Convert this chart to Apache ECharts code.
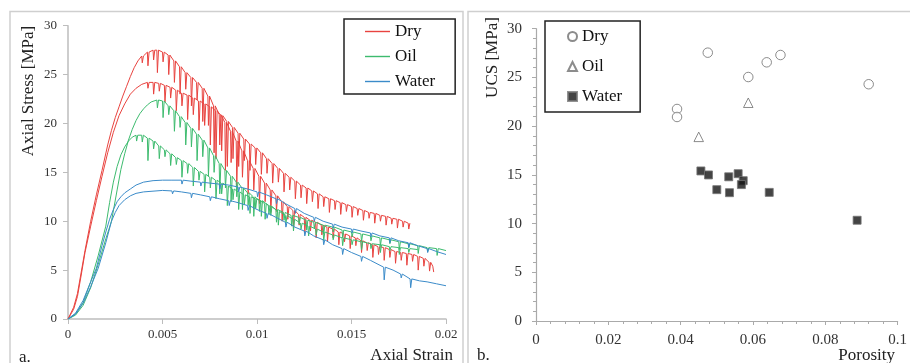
<!DOCTYPE html>
<html>
<head>
<meta charset="utf-8">
<script src="https://cdn.jsdelivr.net/npm/echarts@6/dist/echarts.min.js"></script>
<style>html,body{margin:0;padding:0;background:#fff;}#c{width:910px;height:363px;}</style>
</head>
<body>
<div id="c"></div>
<script>
// ---- Panel a: stress-strain curves. [strain, stress] or [strain, stress, dipBottom]
const dryA = [[0,0],[0.0003,1.2],[0.0005,2.6],[0.0007,4.8],[0.0009,7.0],[0.0012,10.0],[0.0015,12.7],[0.0018,15.2],[0.0021,17.8],[0.0023,19.3],[0.0025,20.6],[0.0027,21.7],[0.0029,22.8],[0.0031,23.8],[0.0033,24.8],[0.0035,25.7],[0.0037,26.4],
[0.0039,26.9,26.2],[0.0042,27.3,25.9],[0.0045,27.5,26.5],[0.0047,27.5,25.2],[0.0050,27.3,26.3],[0.0053,27.0,25.0],[0.0056,26.4,24.2],[0.0059,25.8,23.0],[0.0062,25.2,23.5],[0.0065,24.7,21.8],[0.0068,24.2,22.4],[0.0071,23.6,20.2],[0.0074,22.8,19.8],[0.0077,21.8,17.0],[0.0080,20.9,17.8],[0.0083,20.1,15.2],[0.0086,19.2,16.0],[0.0089,18.2,13.6],[0.0092,17.2,14.5],[0.0095,16.2,12.8],[0.0098,15.4,13.2],[0.0101,14.6,11.8],[0.0104,13.9,12.0],[0.0107,13.2,10.9],[0.0110,12.6,11.0],[0.0113,12.0,10.0],[0.0116,11.5,10.2],[0.0119,11.1,9.3],[0.0122,10.7,9.6],[0.0125,10.4,8.8],[0.0128,10.1,9.0],[0.0131,9.9,8.3],[0.0134,9.6,8.6],[0.0137,9.4,7.9],[0.0140,9.2,8.3],[0.0143,8.9,7.6],[0.0146,8.7,7.9],[0.0149,8.5,7.2],[0.0152,8.3,7.5],[0.0155,8.0,6.8],[0.0158,7.8,7.0],[0.0161,7.6,6.3],[0.0164,7.4,6.6],[0.0167,7.3,6.0],[0.0170,7.1,6.3],[0.0173,6.9,5.7],[0.0176,6.8,6.0],[0.0179,6.7,5.5],[0.0182,6.6,5.9],[0.0185,6.4,5.0],[0.0188,6.2,5.4],[0.0191,5.8,4.9],[0.0193,5.4],[0.01935,4.8]];
const dryB = [[0,0],[0.0003,1.0],[0.0005,2.3],[0.0007,4.5],[0.0009,6.8],[0.0012,9.5],[0.0015,12.1],[0.0018,14.6],[0.0021,17.0],[0.0024,19.1],[0.0027,20.8],[0.0030,22.0],[0.0033,23.0],[0.0036,23.6],[0.0039,24.0],
[0.0042,24.2,23.6],[0.0045,24.2,23.0],[0.0048,24.1,23.3],[0.0051,23.9,22.2],[0.0054,23.7,22.6],[0.0057,23.4,21.3],[0.0060,23.1,21.8],[0.0063,22.9,20.4],[0.0066,22.6,20.9],[0.0069,22.3,19.3],[0.0072,22.0,19.8],[0.0075,21.7,17.8],[0.0078,21.3,16.4],[0.0081,20.8,17.2],[0.0084,20.2,15.6],[0.0087,19.6,16.4],[0.0090,19.0,15.6],[0.0093,18.4,16.2],[0.0096,17.9,15.2],[0.0099,17.5,15.8],[0.0102,17.0,14.8],[0.0105,16.4,14.9],[0.0108,15.9,13.9],[0.0111,15.4,14.0],[0.0114,14.9,13.0],[0.0117,14.5,13.2],[0.0120,14.1,12.3],[0.0123,13.7,12.4],[0.0126,13.4,11.8],[0.0129,13.1,12.0],[0.0132,12.8,11.3],[0.0135,12.5,11.5],[0.0138,12.3,10.9],[0.0141,12.1,11.2],[0.0144,11.9,10.7],[0.0147,11.7,11.0],[0.0150,11.5,10.4],[0.0153,11.3,10.6],[0.0156,11.1,10.1],[0.0159,10.9,10.3],[0.0162,10.8,9.8],[0.0165,10.6,10.0],[0.0168,10.5,9.6],[0.0171,10.3,9.7],[0.0174,10.2,9.3],[0.0177,10.0,9.4],[0.0180,9.8,9.2]];
const oilA = [[0,0],[0.0004,0.4],[0.0008,1.4],[0.0012,3.2],[0.0016,5.6],[0.0020,8.2],[0.0023,10.0],[0.0026,13.2],[0.0028,15.3],[0.0030,16.9],[0.0032,18.3],[0.0034,19.4],[0.0036,20.3],[0.0038,21.0],[0.0040,21.5],[0.0042,21.9],[0.0044,22.2],
[0.0047,22.4,21.6],[0.0050,22.3,20.6],[0.0053,21.8,20.9],[0.0056,21.3,19.2],[0.0059,20.7,19.6],[0.0062,20.1,17.8],[0.0065,19.5,17.6],[0.0068,18.9,16.2],[0.0071,18.3,16.6],[0.0074,17.5,14.6],[0.0077,16.7,15.0],[0.0080,15.9,12.8],[0.0083,15.2,13.4],[0.0086,14.6,12.0],[0.0089,14.0,12.5],[0.0092,13.4,11.2],[0.0095,12.9,11.6],[0.0098,12.5,10.5],[0.0101,12.1,11.0],[0.0104,11.8,10.2],[0.0107,11.5,10.6],[0.0111,11.0,9.6],[0.0115,10.6,9.8],[0.0119,10.2,9.0],[0.0123,9.8,9.2],[0.0127,9.5,8.5],[0.0131,9.2,8.6],[0.0135,8.9,8.0],[0.0140,8.6,8.1],[0.0145,8.3,7.5],[0.0150,8.1,7.6],[0.0155,7.9,7.1],[0.0160,7.7,7.2],[0.0165,7.6,6.8],[0.0170,7.4,7.0],[0.0175,7.3,6.6],[0.0180,7.2,6.8],[0.0185,7.1]];
const oilB = [[0,0],[0.0004,0.5],[0.0008,1.7],[0.0012,3.8],[0.0016,6.5],[0.0020,9.5],[0.0022,11.9],[0.0024,14.0],[0.0026,15.6],[0.0028,16.8],[0.0030,17.6],[0.0032,18.2],[0.0034,18.6],
[0.0036,18.8,18.2],[0.0039,18.8,18.1],[0.0042,18.5,16.2],[0.0045,18.2,17.4],[0.0048,17.7,16.4],[0.0051,17.3,16.6],[0.0054,16.9,15.7],[0.0057,16.5,15.8],[0.0060,16.2,14.5],[0.0063,15.9,14.9],[0.0066,15.5,13.6],[0.0069,15.1,14.2],[0.0072,14.8,13.0],[0.0075,14.5,13.4],[0.0078,14.2,12.3],[0.0081,13.9,12.8],[0.0084,13.6,11.6],[0.0087,13.3,12.2],[0.0090,13.0,11.2],[0.0093,12.7,11.7],[0.0096,12.5,10.8],[0.0099,12.3,11.3],[0.0102,12.1,10.5],[0.0106,11.6,10.7],[0.0110,11.2,9.9],[0.0114,10.9,10.1],[0.0118,10.6,9.5],[0.0122,10.4,9.7],[0.0126,10.1,9.1],[0.0130,9.9,9.3],[0.0135,9.6,8.7],[0.0140,9.4,8.9],[0.0145,9.1,8.3],[0.0150,8.9,8.4],[0.0155,8.7,7.9],[0.0160,8.5,8.0],[0.0165,8.3,7.5],[0.0170,8.1,7.7],[0.0175,7.9,7.1],[0.0180,7.7,7.3],[0.0185,7.5,6.7],[0.0190,7.3,6.9],[0.0195,7.2,6.5],[0.0200,7.0]];
const waterA = [[0,0],[0.0004,0.6],[0.0008,1.9],[0.0012,3.8],[0.0015,5.2],[0.0018,7.5],[0.0020,8.9],[0.0022,10.2],[0.0024,11.2],[0.0026,12.0],[0.0028,12.5],[0.0030,12.9],[0.0033,13.3],[0.0036,13.7],[0.0040,14.0],[0.0045,14.15],[0.0050,14.2],[0.0055,14.2],[0.0060,14.2,13.8],[0.0065,14.1],[0.0070,14.0,13.6],[0.0075,13.9],[0.0080,13.8,13.3],[0.0085,13.7],[0.0090,13.5,13.0],[0.0095,13.3],[0.0100,13.0,12.5],[0.0105,12.7],[0.0110,12.3,11.8],[0.0115,11.8],[0.0120,11.3,10.8],[0.0125,10.8],[0.0130,10.4,10.0],[0.0135,10.0],[0.0140,9.7,9.3],[0.0145,9.4],[0.0150,9.2,8.8],[0.0155,9.0],[0.0160,8.8,8.4],[0.0165,8.5],[0.0170,8.3,7.8],[0.0175,8.0],[0.0180,7.8,7.3],[0.0185,7.5],[0.0190,7.2,6.8],[0.0195,6.9],[0.0200,6.6]];
const waterB = [[0,0],[0.0004,0.5],[0.0008,1.6],[0.0012,3.3],[0.0016,5.2],[0.0020,7.8],[0.0023,10.0],[0.0025,10.9],[0.0027,11.6],[0.0030,12.2],[0.0033,12.6],[0.0036,12.85],[0.0040,13.0],[0.0050,13.15],[0.0055,13.1,12.8],[0.0060,13.0],[0.0065,12.85,12.4],[0.0070,12.7],[0.0075,12.5,12.1],[0.0080,12.3],[0.0085,12.1,11.6],[0.0090,11.9],[0.0095,11.6,11.1],[0.0100,11.2],[0.0105,10.8,10.3],[0.0110,10.4],[0.0115,9.9,9.4],[0.0120,9.4],[0.0125,9.0,8.5],[0.0130,8.5],[0.0135,8.1,7.6],[0.0140,7.6],[0.0145,7.2,6.6],[0.0150,6.8],[0.0155,6.4,5.9],[0.0160,6.0],[0.0167,5.3,4.0],[0.0172,5.0],[0.0176,4.6,4.2],[0.0181,4.1,3.2],[0.0186,3.9],[0.0190,3.8],[0.0195,3.6],[0.0200,3.4]];

// ---- Panel b: UCS vs porosity
const porDry = [0.039,0.039,0.0475,0.0587,0.0638,0.0676,0.092];
const ucsDry = [21.76,20.94,27.54,25.04,26.55,27.3,24.3];
const porOil = [0.045,0.0587];
const ucsOil = [18.9,22.4];
const porWater = [0.0456,0.0477,0.05,0.0533,0.0535,0.0559,0.0573,0.0568,0.0645,0.0888];
const ucsWater = [15.4,14.99,13.48,14.8,13.17,15.12,14.4,14.0,13.2,10.34];

const RED = '#e8433f', GREEN = '#3dbb6e', BLUE = '#3b8bc9';
const SERIF = 'Liberation Serif';
const DW = 0.00003;
function curve(arr){
  const out = [];
  arr.forEach(p => {
    out.push([p[0], p[1]]);
    if (p.length > 2) { out.push([p[0] + DW, p[2]]); out.push([p[0] + 3 * DW, p[1]]); }
  });
  return out;
}
function zip(xs, ys){ return xs.map((x, i) => [x, ys[i]]); }

const chart = echarts.init(document.getElementById('c'), null, {renderer: 'canvas'});
const axisGray = '#bdbdbd';
const lab = (size) => ({fontFamily: SERIF, fontSize: size, color: '#333'});

function lineSeries(name, data, color){
  return {name, type: 'line', xAxisIndex: 0, yAxisIndex: 0, data: curve(data), symbol: 'none',
    lineStyle: {color, width: 1}, itemStyle: {color}, animation: false, silent: true};
}

chart.setOption({
  animation: false,
  grid: [
    {left: 68, top: 25.7, width: 378, height: 293.3},
    {left: 536, top: 28.7, width: 365, height: 292.3}
  ],
  xAxis: [
    {gridIndex: 0, type: 'value', min: 0, max: 0.02, interval: 0.005, splitLine: {show: false},
      axisLine: {lineStyle: {color: axisGray, width: 1.5}}, axisTick: {length: 5, lineStyle: {color: axisGray}},
      axisLabel: Object.assign({margin: 9}, lab(13))},
    {gridIndex: 1, type: 'value', min: 0, max: 0.1, interval: 0.02, splitLine: {show: false},
      axisLine: {lineStyle: {color: '#aaa', width: 1.2}}, axisTick: {length: 4, lineStyle: {color: '#aaa'}},
      axisLabel: Object.assign({margin: 12}, lab(15))},
    {gridIndex: 1, type: 'value', min: 0, max: 0.1, interval: 0.02, splitLine: {show: false},
      axisLine: {show: false}, axisLabel: {show: false},
      axisTick: {inside: true, length: 4, lineStyle: {color: '#aaa'}},
      minorTick: {show: true, splitNumber: 5, length: 3, lineStyle: {color: '#aaa'}}}
  ],
  yAxis: [
    {gridIndex: 0, type: 'value', min: 0, max: 30, interval: 5, splitLine: {show: false},
      axisLine: {show: true, lineStyle: {color: axisGray, width: 1.5}}, axisTick: {show: true, length: 5, lineStyle: {color: axisGray}},
      axisLabel: Object.assign({margin: 11}, lab(13))},
    {gridIndex: 1, type: 'value', min: 0, max: 30, interval: 5, splitLine: {show: false},
      axisLine: {show: true, lineStyle: {color: '#aaa', width: 1.2}}, axisTick: {show: true, length: 4, lineStyle: {color: '#aaa'}},
      axisLabel: Object.assign({margin: 14}, lab(15))},
    {gridIndex: 1, type: 'value', min: 0, max: 30, interval: 5, splitLine: {show: false},
      axisLine: {show: false}, axisLabel: {show: false},
      axisTick: {show: true, inside: true, length: 4, lineStyle: {color: '#aaa'}},
      minorTick: {show: true, splitNumber: 5, length: 3, lineStyle: {color: '#aaa'}}}
  ],
  legend: [
    {data: ['Dry', 'Oil', 'Water'], orient: 'vertical', left: 344, top: 19, padding: [4, 20, 4, 21],
      itemGap: 8, itemWidth: 25, itemHeight: 1.4, icon: 'rect', selectedMode: false,
      borderColor: '#222', borderWidth: 1.5,
      textStyle: {fontFamily: SERIF, fontSize: 17, color: '#111', lineHeight: 17}},
    {data: ['Dry (b)', 'Oil (b)', 'Water (b)'], orient: 'vertical', left: 545, top: 21, padding: [7, 18, 7, 22],
      itemGap: 13, itemWidth: 9, itemHeight: 9, selectedMode: false,
      borderColor: '#222', borderWidth: 1.5, formatter: n => n.replace(' (b)', ''),
      textStyle: {fontFamily: SERIF, fontSize: 17, color: '#111', lineHeight: 17}}
  ],
  series: [
    lineSeries('Dry', dryA, RED),
    lineSeries('Dry', dryB, RED),
    lineSeries('Oil', oilA, GREEN),
    lineSeries('Oil', oilB, GREEN),
    lineSeries('Water', waterA, BLUE),
    lineSeries('Water', waterB, BLUE),
    {name: 'Dry (b)', type: 'scatter', xAxisIndex: 1, yAxisIndex: 1, data: zip(porDry, ucsDry),
      symbol: 'circle', symbolSize: 9.5, itemStyle: {color: '#fff', borderColor: '#6f6f6f', borderWidth: 1}},
    {name: 'Oil (b)', type: 'scatter', xAxisIndex: 1, yAxisIndex: 1, data: zip(porOil, ucsOil),
      symbol: 'triangle', symbolSize: 9.5, itemStyle: {color: '#fff', borderColor: '#6f6f6f', borderWidth: 1}},
    {name: 'Water (b)', type: 'scatter', xAxisIndex: 1, yAxisIndex: 1, data: zip(porWater, ucsWater),
      symbol: 'rect', symbolSize: 8, itemStyle: {color: '#151515', borderColor: '#777', borderWidth: 1}}
  ],
  graphic: [
    {type: 'rect', silent: true, z: -1, shape: {x: 10, y: 11.5, width: 453, height: 400}, style: {fill: 'none', stroke: '#cfcfcf', lineWidth: 1.5}},
    {type: 'rect', silent: true, z: -1, shape: {x: 468, y: 11.5, width: 460, height: 400}, style: {fill: 'none', stroke: '#cfcfcf', lineWidth: 1.5}},
    {type: 'text', x: 28.5, y: 91, rotation: Math.PI / 2, style: {text: 'Axial Stress [MPa]', font: '17px "Liberation Serif"', fill: '#222', textAlign: 'center', textVerticalAlign: 'middle'}},
    {type: 'text', x: 453, y: 356, style: {text: 'Axial Strain', font: '17px "Liberation Serif"', fill: '#222', textAlign: 'right', textVerticalAlign: 'middle'}},
    {type: 'text', x: 492.5, y: 57.5, rotation: Math.PI / 2, style: {text: 'UCS [MPa]', font: '17px "Liberation Serif"', fill: '#222', textAlign: 'center', textVerticalAlign: 'middle'}},
    {type: 'text', x: 895, y: 356, style: {text: 'Porosity', font: '17px "Liberation Serif"', fill: '#222', textAlign: 'right', textVerticalAlign: 'middle'}},
    {type: 'text', x: 19, y: 358, style: {text: 'a.', font: '17px "Liberation Serif"', fill: '#222', textAlign: 'left', textVerticalAlign: 'middle'}},
    {type: 'text', x: 477, y: 356, style: {text: 'b.', font: '17px "Liberation Serif"', fill: '#222', textAlign: 'left', textVerticalAlign: 'middle'}}
  ]
});
</script>
</body>
</html>
